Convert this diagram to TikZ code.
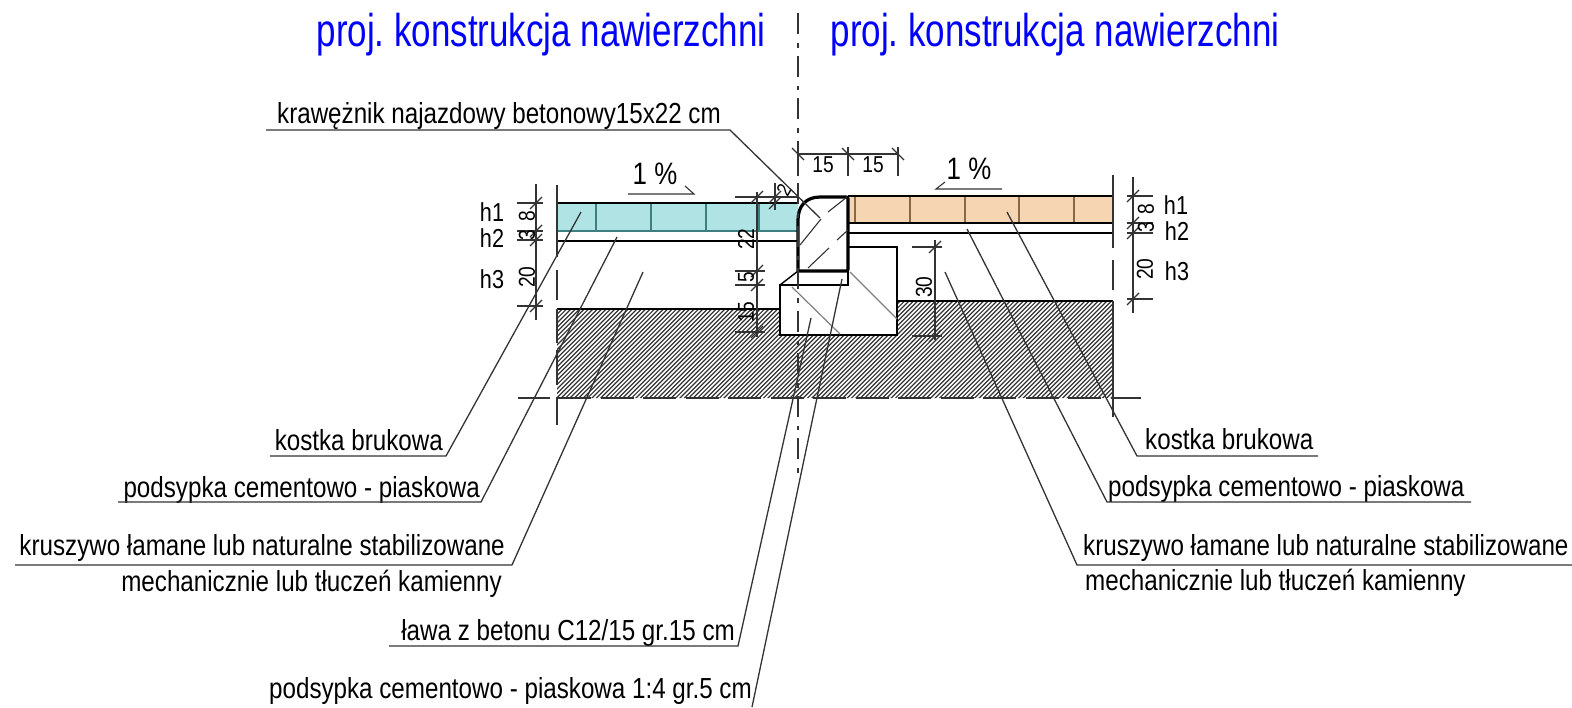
\documentclass[tikz,border=0pt]{standalone}
\usepackage{fontspec}
\setmainfont[FakeStretch=0.834]{Liberation Sans}
\newfontfamily\titlefont[FakeStretch=0.76]{Liberation Sans}
\definecolor{pavecyan}{HTML}{B0E4E4}
\definecolor{pavepeach}{HTML}{F6D5B3}
\definecolor{jointteal}{HTML}{3F7F7F}
\definecolor{jointbrown}{HTML}{8A6A45}
\definecolor{inkdark}{gray}{0.2}
\tikzset{
  titletext/.style={text=blue,inner sep=0pt,font=\titlefont\fontsize{46}{46}\selectfont},
  labeltext/.style={inner sep=0pt,font=\fontsize{29}{29}\selectfont},
  heighttext/.style={inner sep=0pt,font=\fontsize{26}{26}\selectfont},
  slopetext/.style={inner sep=0pt,font=\fontsize{31}{31}\selectfont},
  dimtext/.style={inner sep=0pt,font=\fontsize{23}{23}\selectfont},
  leader/.style={draw=inkdark,line width=1.3pt},
  dimline/.style={draw=inkdark,line width=1.1pt},
  grayline/.style={draw=gray,line width=1.2pt},
  outline/.style={draw=black,line width=1.4pt},
  curbline/.style={draw=black,line width=3.2pt},
  axisline/.style={draw=inkdark,line width=1.2pt,dash pattern=on 21pt off 9pt on 4.5pt off 8pt},
  breakline/.style={draw=inkdark,line width=1.4pt,dash pattern=on 33pt off 9.5pt},
  hatchline/.style={draw=inkdark,line width=1.2pt},
}
\begin{document}
\begin{tikzpicture}[x=1pt,y=-1pt]
\useasboundingbox (0,0) rectangle (1572,707);

% ground
\begin{scope}
\clip (557,309) -- (780,309) -- (780,335) -- (897,335) -- (897,301) -- (1113,301) -- (1113,398) -- (557,398) -- cycle;
\foreach \k in {0,...,155}
  \draw[hatchline] (438+\k*4.4,420) -- ++(130,-130);
\end{scope}
\draw[outline] (557,309) -- (780,309);
\draw[outline] (897,301) -- (1113,301);

% paving left
\fill[pavecyan] (557,203) rectangle (798,231);
\foreach \x in {596,651,706,759}
  \draw[jointteal,line width=1.2pt] (\x,203) -- (\x,231);
\draw[line width=1.7pt,draw=black] (557,203) -- (798,203);
\draw[jointteal,line width=1.4pt] (557,231) -- (798,231);
\draw[outline] (557,241) -- (798,241);

% paving right
\fill[pavepeach] (848,196) rectangle (1113,223);
\foreach \x in {855,910,965,1019,1074}
  \draw[jointbrown,line width=1.2pt] (\x,196) -- (\x,223);
\draw[outline] (848,196) -- (1113,196);
\draw[outline] (848,223) -- (1113,223);
\draw[outline] (848,233) -- (1113,233);

% foundation
\draw[outline,fill=white] (780,285) rectangle (897,335);
\draw[outline,fill=white] (848,271) -- (848,247) -- (897,247) -- (897,285) -- (848,285) -- cycle;
\fill[white] (849,248) rectangle (896,300);
\draw[outline] (780,285) -- (798,271);
\draw[outline] (848,271) -- (848,285);
\draw[outline] (780,285) -- (848,285);
\draw[grayline] (792,287) -- (840,334);
\draw[grayline] (850,272) -- (897,319);

% curb
\draw[curbline,fill=white,rounded corners=2pt] (798,271) -- (848,271) -- (848,197) -- (820,197);
\draw[curbline,fill=white] (820,197) .. controls (806,197) and (798,206) .. (798,220) -- (798,271);
\draw[line width=1.1pt,draw=inkdark] (828,212) -- (847,197);
\draw[line width=1.1pt,draw=inkdark] (800,245) -- (821,219);
\draw[line width=1.1pt,draw=inkdark] (837,240) -- (848,230);
\draw[line width=1.1pt,draw=inkdark] (808,268) -- (829,248);

% axis
\draw[axisline] (798,13) -- (798,473);

% section ends
\foreach \a/\b in {185/257,270/300,309/343,350/385,397/425}
  \draw[dimline] (557,\a) -- (557,\b);
\foreach \a/\b in {175/248,260/290,301/398,398/417}
  \draw[dimline] (1113,\a) -- (1113,\b);
\draw[dimline] (518,398) -- (550,398);
\draw[breakline] (558,398) -- (1141,398);

% dimensions left
\draw[dimline] (536,184) -- (536,320);
\foreach \y in {203,231,240,306} {
  \draw[dimline] (517,\y) -- (543,\y);
  \draw[dimline] (536,\y) ++(-6,6) -- ++(12,-12);
}
\node[dimtext,rotate=90] (dimEightLeft) at (527,216) {8};
\node[dimtext,rotate=90] (dimThreeLeft) at (527,235) {3};
\node[dimtext,rotate=90] (dimTwentyLeft) at (527,277) {20};
\node[heighttext] (heightOneLeft) at (492,212) {h1};
\node[heighttext] (heightTwoLeft) at (492,238) {h2};
\node[heighttext] (heightThreeLeft) at (492,279) {h3};

% dimensions curb left
\draw[dimline] (757,192) -- (757,337);
\foreach \y in {197,271,285,332} {
  \draw[dimline] (735,\y) -- (765,\y);
  \draw[dimline] (757,\y) ++(-6,6) -- ++(12,-12);
}
\draw[dimline] (765,197) -- (798,197);
\draw[dimline] (775,183) -- (775,210);
\foreach \y in {197,203}
  \draw[dimline] (775,\y) ++(-6,6) -- ++(12,-12);
\node[dimtext,rotate=90] (dimTwentyTwo) at (746,239) {22};
\node[dimtext,rotate=90] (dimFive) at (746,277) {5};
\node[dimtext,rotate=90] (dimFifteen) at (746,312) {15};
\node[dimtext,rotate=60,font=\fontsize{20}{20}\selectfont] (dimTwo) at (784,190) {2};

% dimensions top
\draw[dimline] (798,154) -- (898,154);
\foreach \x in {798,848,898} {
  \draw[dimline] (\x,147) -- (\x,176);
  \draw[dimline] (\x,154) ++(-6,-6) -- ++(12,12);
}
\node[dimtext] (dimCurbWidth) at (823,165) {15};
\node[dimtext] (dimBackWidth) at (873,165) {15};

% dimension foundation
\draw[dimline] (935,240) -- (935,340);
\foreach \y in {247,336} {
  \draw[dimline] (912,\y) -- (942,\y);
  \draw[dimline] (935,\y) ++(-6,6) -- ++(12,-12);
}
\node[dimtext,rotate=90] (dimThirty) at (924,287) {30};

% dimensions right
\draw[dimline] (1133,177) -- (1133,313);
\foreach \y in {196,223,233,299} {
  \draw[dimline] (1127,\y) -- (1153,\y);
  \draw[dimline] (1133,\y) ++(-6,6) -- ++(12,-12);
}
\node[dimtext,rotate=90] (dimEightRight) at (1146,209) {8};
\node[dimtext,rotate=90] (dimThreeRight) at (1146,227) {3};
\node[dimtext,rotate=90] (dimTwentyRight) at (1145,269) {20};
\node[heighttext] (heightOneRight) at (1176,205) {h1};
\node[heighttext] (heightTwoRight) at (1177,231) {h2};
\node[heighttext] (heightThreeRight) at (1177,271) {h3};

% slopes
\node[slopetext] (slopeLeft) at (655,174) {1 \%};
\coordinate (slopeLeftA) at (628,194);
\coordinate (slopeLeftB) at (694,194);
\coordinate (slopeLeftC) at (685,186);
\draw[dimline] (slopeLeftA) -- (slopeLeftB) -- (slopeLeftC);
\node[slopetext] (slopeRight) at (969,169) {1 \%};
\coordinate (slopeRightA) at (1002,189);
\coordinate (slopeRightB) at (936,189);
\coordinate (slopeRightC) at (945,182);
\draw[dimline] (slopeRightA) -- (slopeRightB) -- (slopeRightC);

% titles
\node[titletext] (titleLeft) at (541,35) {proj.\ konstrukcja nawierzchni};
\node[titletext] (titleRight) at (1055,35) {proj.\ konstrukcja nawierzchni};

% labels
\node[labeltext,anchor=base east] (curbLabel) at (721,123) {krawężnik najazdowy betonowy15x22 cm};
\coordinate (curbStart) at (266,130);
\coordinate (curbKnee) at (730,130);
\coordinate (curbTip) at (820,218);
\draw[leader] (curbStart) -- (curbKnee) -- (curbTip);

\node[labeltext,anchor=base east] (kostkaLeft) at (443,450) {kostka brukowa};
\coordinate (kostkaLeftStart) at (270,456);
\coordinate (kostkaLeftKnee) at (446,456);
\coordinate (kostkaLeftTip) at (581,212);
\draw[leader] (kostkaLeftStart) -- (kostkaLeftKnee) -- (kostkaLeftTip);

\node[labeltext,anchor=base east] (sandLeft) at (480,497) {podsypka cementowo - piaskowa};
\coordinate (sandLeftStart) at (118,502);
\coordinate (sandLeftKnee) at (481,502);
\coordinate (sandLeftTip) at (617,237);
\draw[leader] (sandLeftStart) -- (sandLeftKnee) -- (sandLeftTip);

\node[labeltext,anchor=base east] (baseLeftUpper) at (505,555) {kruszywo łamane lub naturalne stabilizowane};
\node[labeltext,anchor=base east] (baseLeftLower) at (502,591) {mechanicznie lub tłuczeń kamienny};
\coordinate (baseLeftStart) at (15,565);
\coordinate (baseLeftKnee) at (512,565);
\coordinate (baseLeftTip) at (643,272);
\draw[leader] (baseLeftStart) -- (baseLeftKnee) -- (baseLeftTip);

\node[labeltext,anchor=base east] (benchLabel) at (735,640) {ława z betonu C12/15 gr.15 cm};
\coordinate (benchStart) at (389,646);
\coordinate (benchKnee) at (738,646);
\coordinate (benchTip) at (811,318);
\draw[leader] (benchStart) -- (benchKnee) -- (benchTip);

\node[labeltext,anchor=base east] (beddingLabel) at (752,698) {podsypka cementowo - piaskowa 1:4 gr.5 cm};
\coordinate (beddingKnee) at (752,707);
\coordinate (beddingTip) at (842,279);
\draw[leader] (beddingKnee) -- (beddingTip);

\node[labeltext,anchor=base west] (kostkaRight) at (1145,449) {kostka brukowa};
\coordinate (kostkaRightStart) at (1318,456);
\coordinate (kostkaRightKnee) at (1137,456);
\coordinate (kostkaRightTip) at (1007,212);
\draw[leader] (kostkaRightStart) -- (kostkaRightKnee) -- (kostkaRightTip);

\node[labeltext,anchor=base west] (sandRight) at (1108,496) {podsypka cementowo - piaskowa};
\coordinate (sandRightStart) at (1471,502);
\coordinate (sandRightKnee) at (1107,502);
\coordinate (sandRightTip) at (967,229);
\draw[leader] (sandRightStart) -- (sandRightKnee) -- (sandRightTip);

\node[labeltext,anchor=base west] (baseRightUpper) at (1083,555) {kruszywo łamane lub naturalne stabilizowane};
\node[labeltext,anchor=base west] (baseRightLower) at (1085,590) {mechanicznie lub tłuczeń kamienny};
\coordinate (baseRightStart) at (1572,565);
\coordinate (baseRightKnee) at (1077,565);
\coordinate (baseRightTip) at (945,272);
\draw[leader] (baseRightStart) -- (baseRightKnee) -- (baseRightTip);
\end{tikzpicture}
\end{document}
